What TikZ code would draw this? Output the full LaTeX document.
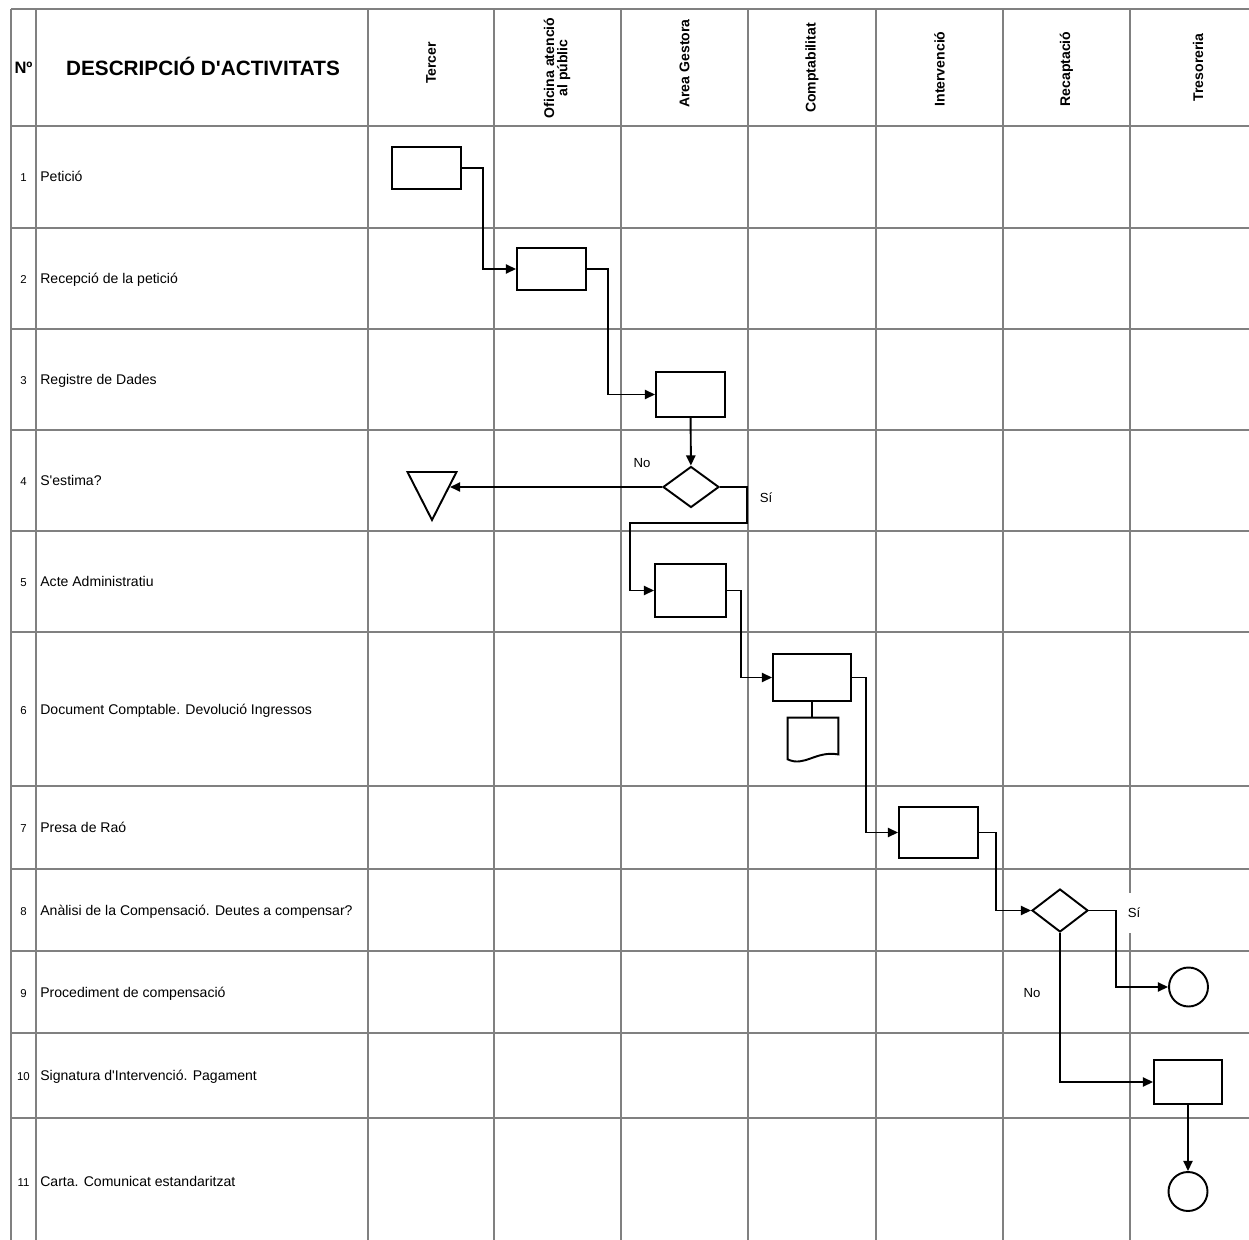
\documentclass[tikz,border=0pt]{standalone}
\usepackage{fontspec}
\setmainfont{Liberation Sans}[Ligatures=TeXOff]
\usetikzlibrary{shapes.geometric,arrows.meta}

\begin{document}
\begin{tikzpicture}[x=0.02cm,y=-0.02cm,
  grid/.style={gray, line width=0.9pt},
  flow/.style={black, line width=1.1pt},
  arr/.style={flow, -{Triangle[length=5.8pt,width=5.2pt]}},
  box/.style={rectangle, draw, line width=1.1pt, inner sep=0pt, minimum width=1.38cm, minimum height=0.84cm},
  decision/.style={diamond, draw, line width=1.1pt, inner sep=0pt, minimum width=1.12cm, minimum height=0.82cm},
  terminal/.style={circle, draw, line width=1.1pt, inner sep=0pt, minimum size=0.78cm},
  lane/.style={rotate=90, font=\bfseries\fontsize{8}{7.6}\selectfont, align=center},
  activity/.style={anchor=base west, inner sep=0pt, font=\fontsize{8}{9.6}\selectfont},
  num/.style={anchor=base, inner sep=0pt, font=\fontsize{6.5}{7.8}\selectfont},
  answer/.style={font=\fontsize{7.5}{9}\selectfont}]
  \useasboundingbox (0,0) rectangle (1249,1240);

  \foreach \x in {11,36,368,494,621,748,876,1003,1130}
    \draw[grid] (\x,9) -- (\x,1240);
  \foreach \y in {9,126,228,329,430,531,632,786,869,951,1033,1118}
    \draw[grid] (11,\y) -- (1249,\y);

  \node[anchor=base, inner sep=0pt, font=\bfseries\fontsize{9.4}{11}\selectfont] (nr) at (23.5,74) {Nº};
  \node[anchor=base, inner sep=0pt, font=\bfseries\fontsize{11.8}{14}\selectfont] (titol) at (203,76) {DESCRIPCIÓ D'ACTIVITATS};
  \node[lane] (tercer) at (431,63) {Tercer};
  \node[lane] (oficina) at (557,68) {Oficina atenció\\al públic};
  \node[lane] (gestora) at (684.5,63.5) {Area Gestora};
  \node[lane] (comptab) at (812,68) {Comptabilitat};
  \node[lane] (interv) at (939.5,69) {Intervenció};
  \node[lane] (recapt) at (1066.5,69) {Recaptació};
  \node[lane] (tresor) at (1198,67.5) {Tresoreria};

  \foreach \n/\y/\t in {1/182/{Petició}, 2/283.5/{Recepció de la petició}, 3/384.5/{Registre de Dades},
      4/485.5/{S'estima?}, 5/586.5/{Acte Administratiu}, 6/714/{Document Comptable. Devolució Ingressos},
      7/832.5/{Presa de Raó}, 8/915/{Anàlisi de la Compensació. Deutes a compensar?},
      9/997/{Procediment de compensació}, 10/1080.5/{Signatura d'Intervenció. Pagament},
      11/1186/{Carta. Comunicat estandaritzat}} {
    \node[num] (n\n) at (23.5,\y) {\n};
    \node[activity] (act\n) at (40,\y) {\t};
  }

  \node[box] (peticio) at (426.5,168) {};
  \node[box] (recepcio) at (551.5,269) {};
  \node[box, minimum height=0.9cm] (registre) at (690.5,394.5) {};
  \node[decision] (estima) at (691,487) {};
  \node[isosceles triangle, isosceles triangle stretches, shape border rotate=270, draw, line width=1.1pt,
        inner sep=0pt, minimum width=0.98cm, minimum height=0.96cm] (rebuig) at (432,487) {};
  \node[box, minimum width=1.42cm, minimum height=1.06cm] (acte) at (690.5,590.5) {};
  \node[box, minimum width=1.56cm, minimum height=0.94cm] (document) at (812,677.5) {};
  \node[minimum width=1cm, minimum height=0.82cm, inner sep=0pt] (paper) at (813,738.5) {};
  \node[box, minimum width=1.58cm, minimum height=1.02cm] (rao) at (938.5,832.5) {};
  \node[decision, minimum height=0.86cm] (analisi) at (1060,910.5) {};
  \node[terminal] (compensacio) at (1188.5,987) {};
  \node[box, minimum width=1.36cm, minimum height=0.88cm] (pagament) at (1188,1082) {};
  \node[terminal] (carta) at (1188,1191.5) {};

  \draw[flow] (paper.north west) -- (paper.south west) .. controls +(17,8) and +(-23,-4) .. ([yshift=2.8pt]paper.south east) -- (paper.north east) -- cycle;

  \draw[arr] (peticio.east) -- ++(21,0) |- (recepcio.west);
  \draw[arr] (recepcio.east) -- ++(21,0) |- (registre.west);
  \draw[arr] (registre) -- (estima);
  \draw[arr] (estima) -- (rebuig);
  \draw[arr] (estima.east) -- ++(27,0) -- ++(0,36) -- ++(-117,0) |- (acte.west);
  \draw[arr] (acte.east) -- ++(14,0) |- (document.west);
  \draw[flow] (document.south) -- (document.south |- paper.north);
  \draw[arr] (document.east) -- ++(14,0) |- (rao.west);
  \draw[arr] (rao.east) -- ++(17,0) |- (analisi.west);
  \draw[arr] (analisi.east) -- ++(27,0) |- (compensacio.west);
  \draw[arr] (analisi.south) |- (pagament.west);
  \draw[arr] (pagament) -- (carta);

  \node[answer] (no1) at (642,463) {No};
  \node[answer] (si1) at (766,498) {Sí};
  \node[answer, fill=white, inner xsep=1pt, minimum height=0.8cm] (si2) at (1134,913) {Sí};
  \node[answer] (no2) at (1032,993) {No};
\end{tikzpicture}
\end{document}
